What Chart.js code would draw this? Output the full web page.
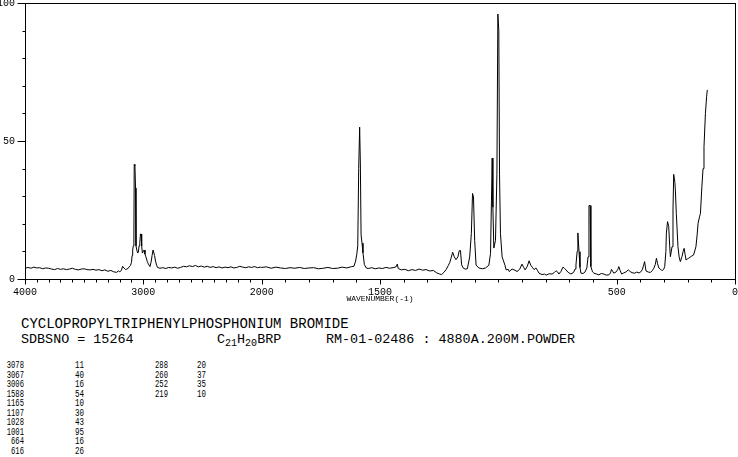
<!DOCTYPE html>
<html>
<head>
<meta charset="utf-8">
<script src="https://cdn.jsdelivr.net/npm/chart.js@4.4.1/dist/chart.umd.min.js"></script>
<style>
  body { margin: 0; background: #fff; }
  #wrap { position: relative; width: 738px; height: 457px; overflow: hidden; }
  #chartBox { position: absolute; left: 0; top: 0; width: 738px; height: 310px; }
  .txt { position: absolute; font-family: "Liberation Mono", monospace; color: #000; white-space: pre; }
  .big { font-size: 14px; line-height: 14px; }
  .mid { font-size: 13.4px; line-height: 14px; }
  .small { font-size: 10px; line-height: 10px; }
  .mid sub { font-size: 10px; vertical-align: -3px; }
</style>
</head>
<body>
<div id="wrap">
  <div id="chartBox"><canvas id="spectrum" width="738" height="310"></canvas></div>
  <div id="info"></div>
</div>
<script>
// Raman spectrum, intensity (wavenumber in cm-1)
const wavenumbers = [
    4000, 3975, 3950, 3925, 3900, 3875, 3850, 3825, 3800, 3775,
    3750, 3725, 3700, 3675, 3650, 3625, 3600, 3575, 3550, 3525,
    3500, 3475, 3450, 3425, 3400, 3375, 3350, 3325, 3300, 3275,
    3250, 3225, 3210, 3200, 3185, 3175, 3165, 3150, 3140, 3130,
    3120, 3110, 3100, 3095, 3090, 3085, 3080, 3077, 3071, 3066,
    3062, 3055, 3048, 3042, 3036, 3030, 3024, 3019, 3014, 3008,
    3000, 2994, 2986, 2978, 2966, 2958, 2944, 2935, 2926, 2918,
    2912, 2905, 2897, 2888, 2880, 2860, 2835, 2810, 2785, 2760,
    2735, 2710, 2685, 2660, 2635, 2610, 2585, 2560, 2535, 2510,
    2485, 2460, 2435, 2410, 2385, 2360, 2335, 2310, 2285, 2260,
    2235, 2210, 2185, 2160, 2135, 2110, 2085, 2060, 2035, 2010,
    2000, 1980, 1960, 1940, 1920, 1900, 1880, 1860, 1840, 1820,
    1800, 1780, 1760, 1740, 1720, 1700, 1680, 1660, 1640, 1620,
    1610, 1603, 1598, 1594, 1590, 1586, 1583, 1580, 1576, 1572,
    1566, 1558, 1550, 1535, 1520, 1505, 1490, 1475, 1460, 1445,
    1432, 1427, 1423, 1410, 1395, 1380, 1365, 1350, 1335, 1320,
    1305, 1290, 1275, 1260, 1248, 1240, 1230, 1220, 1212, 1205,
    1200, 1193, 1186, 1179, 1171, 1165, 1160, 1155, 1148, 1140,
    1131, 1121, 1114, 1109, 1105, 1100, 1094, 1082, 1068, 1054,
    1040, 1033, 1029, 1026, 1023, 1019, 1012, 1006, 1002, 998,
    995, 991, 984, 972, 967, 958, 954, 942, 930, 921,
    910, 900, 893, 887, 878, 870, 863, 857, 849, 841,
    834, 828, 815, 805, 798, 785, 773, 763, 756, 750,
    744, 735, 727, 720, 714, 705, 693, 682, 676, 672,
    667, 664, 659, 655, 651, 642, 634, 626, 621, 617,
    612, 609, 602, 596, 585, 575, 565, 554, 544, 533,
    526, 522, 517, 512, 502, 495, 491, 485, 479, 470,
    460, 451, 443, 435, 425, 415, 405, 398, 392, 386,
    382, 378, 376, 366, 357, 350, 343, 337, 332, 327,
    322, 315, 308, 301, 297, 292, 290, 285, 280, 276,
    273, 266, 262, 259, 254, 252, 248, 241, 236, 231,
    224, 219, 215, 211, 207, 202, 196, 185, 175, 165,
    160, 156, 150, 146, 140, 135, 131, 125, 120, 117
];
const intensities = [
    3.8, 4.2, 3.9, 4.3, 4.0, 4.1, 3.7, 4.0, 3.9, 3.6,
    3.4, 3.8, 3.5, 3.7, 3.4, 3.6, 3.9, 3.5, 3.3, 3.6,
    3.7, 3.4, 3.3, 3.5, 3.2, 3.4, 3.0, 3.3, 2.8, 3.1,
    2.6, 2.4, 3.0, 2.5, 3.2, 4.6, 4.0, 3.4, 3.6, 3.8,
    4.4, 4.8, 6.0, 8.5, 10.5, 12.0, 13.0, 41.5, 41.0, 33.0,
    12.0, 10.5, 9.4, 9.8, 12.0, 13.0, 16.3, 16.3, 12.0, 9.4,
    10.0, 10.5, 9.0, 8.0, 6.3, 5.5, 4.5, 6.0, 8.5, 10.5,
    10.5, 8.5, 6.5, 5.0, 4.2, 3.9, 4.1, 3.8, 4.2, 4.0,
    4.3, 3.9, 4.2, 4.6, 4.4, 4.8, 4.5, 4.9, 4.4, 4.7,
    4.3, 4.6, 4.2, 4.5, 4.1, 4.4, 4.0, 4.3, 4.1, 4.4,
    4.0, 4.2, 4.6, 4.3, 4.1, 4.4, 4.2, 4.5, 4.1, 4.3,
    4.2, 4.4, 3.9, 4.3, 4.0, 3.8, 4.1, 3.9, 4.2, 3.8,
    4.0, 4.1, 3.7, 3.9, 4.2, 3.8, 3.9, 4.3, 4.0, 4.5,
    4.6, 6.5, 9.0, 12.0, 40.0, 55.0, 42.0, 16.0, 13.0, 9.5,
    5.2, 4.0, 3.8, 4.1, 3.7, 4.0, 3.8, 4.2, 3.9, 4.1,
    4.4, 5.4, 3.8, 3.3, 3.5, 3.0, 3.4, 3.1, 3.6, 3.2,
    3.4, 2.9, 3.1, 2.2, 1.8, 1.6, 2.4, 3.5, 4.8, 6.0,
    7.5, 9.7, 8.0, 7.0, 8.0, 10.3, 10.3, 5.1, 3.9, 3.6,
    3.7, 8.0, 16.5, 31.0, 29.8, 14.0, 5.0, 4.0, 3.7, 4.0,
    5.0, 9.3, 28.6, 43.8, 26.0, 11.2, 14.0, 38.0, 96.0, 90.0,
    38.0, 16.5, 8.0, 5.0, 3.3, 3.5, 2.7, 3.6, 3.2, 2.7,
    3.5, 5.4, 4.2, 3.3, 4.5, 6.6, 5.0, 4.3, 3.4, 4.0,
    3.0, 2.1, 1.6, 1.8, 1.4, 1.9, 1.8, 2.4, 3.0, 2.6,
    1.8, 2.8, 4.3, 3.8, 3.3, 2.4, 1.8, 2.4, 3.6, 5.1,
    10.0, 16.7, 9.9, 4.2, 2.1, 2.0, 2.5, 4.0, 8.0, 26.6,
    26.6, 4.5, 2.6, 2.1, 1.8, 1.5, 2.0, 1.8, 1.4, 1.5,
    2.2, 3.5, 2.8, 2.1, 2.6, 3.5, 4.5, 3.0, 1.8, 2.2,
    2.6, 3.3, 2.7, 2.3, 2.1, 2.5, 2.2, 2.6, 3.3, 5.0,
    6.3, 4.0, 2.9, 2.5, 2.4, 3.0, 3.9, 5.2, 7.5, 5.5,
    4.0, 3.6, 3.0, 3.6, 4.5, 10.0, 16.6, 20.8, 19.0, 12.0,
    8.1, 11.7, 25.0, 37.9, 35.0, 32.2, 23.8, 11.7, 8.0, 6.3,
    8.1, 10.0, 11.1, 9.0, 6.9, 7.2, 7.5, 8.2, 8.7, 11.7,
    16.0, 20.2, 22.5, 23.8, 33.4, 40.0, 47.9, 60.0, 66.0, 68.5
];

const xTickValues = [4000, 3000, 2000, 1500, 500, 0];
const xTickLabels = ['4000', '3000', '2000', '1500', '500', '0'];
const yTickValues = [0, 50, 100];
const xTitle = 'WAVENUMBER(-1)';

// peak table printed under the plot
const peakWavenumbers = [3078, 3067, 3006, 1588, 1165, 1107, 1028, 1001, 664, 616, 288, 260, 252, 219];
const peakIntensities = [11, 40, 16, 54, 10, 30, 43, 95, 16, 26, 20, 37, 35, 10];

const compoundName = 'CYCLOPROPYLTRIPHENYLPHOSPHONIUM BROMIDE';
const sdbsNo = 'SDBSNO = 15264';
const formulaHtml = 'C<sub>21</sub>H<sub>20</sub>BRP';
const sampleInfo = 'RM-01-02486 : 4880A.200M.POWDER';

const fontFamily = '"Liberation Mono", monospace';

function toAxis(w) {
    // 4000-2000 is drawn at half the scale of 2000-0
    return w >= 2000 ? (4000 - w) / 2 : 1000 + (2000 - w);
}

const plotFrame = {
    id: 'plotFrame',
    afterDraw: function (chart) {
        let ctx = chart.ctx;
        let a = chart.chartArea;
        let xs = chart.scales.x;
        let ys = chart.scales.y;
        let left = Math.round(a.left) + 0.5;
        let top = Math.round(a.top) + 0.5;
        let bottom = Math.round(a.bottom) + 0.5;

        ctx.save();
        ctx.strokeStyle = '#000';
        ctx.lineWidth = 1;
        ctx.strokeRect(left, top, Math.round(a.width), Math.round(a.height));

        ctx.beginPath();
        // every 100 cm-1 on the x axis, every 10 on the y axis
        for (let w = 4000; w >= 0; w -= 100) {
            let px = Math.round(xs.getPixelForValue(toAxis(w))) + 0.5;
            let len = xTickValues.includes(w) ? 5 : 3;
            ctx.moveTo(px, bottom);
            ctx.lineTo(px, bottom + len);
        }
        for (let v = 0; v <= 100; v += 10) {
            let py = Math.round(ys.getPixelForValue(v)) + 0.5;
            let len = yTickValues.includes(v) ? 8 : 3;
            ctx.moveTo(left - len, py);
            ctx.lineTo(left, py);
        }
        ctx.stroke();
        ctx.restore();
    }
};

let points = wavenumbers.map(function (w, i) {
    return { x: toAxis(w), y: intensities[i] };
});

new Chart(document.getElementById('spectrum'), {
    type: 'line',
    data: {
        datasets: [{
            data: points,
            borderColor: '#000',
            borderWidth: 1,
            pointRadius: 0,
            pointHoverRadius: 0,
            tension: 0,
            fill: false
        }]
    },
    options: {
        responsive: false,
        animation: false,
        events: [],
        layout: { autoPadding: false, padding: { top: 3, right: 2, left: 0, bottom: 0 } },
        plugins: {
            legend: { display: false },
            tooltip: { enabled: false }
        },
        scales: {
            x: {
                type: 'linear',
                min: 0,
                max: 3000,
                // tick marks come from plotFrame, tickLength only spaces the labels
                grid: { display: false, drawTicks: true, tickLength: 7 },
                border: { display: false },
                afterBuildTicks: function (s) {
                    s.ticks = xTickValues.map(function (w) { return { value: toAxis(w) }; });
                },
                afterFit: function (s) { s.height = 31; },
                ticks: {
                    autoSkip: false,
                    maxRotation: 0,
                    padding: 0,
                    color: '#000',
                    font: { family: fontFamily, size: 10 },
                    callback: function (v, i) { return xTickLabels[i]; }
                },
                title: {
                    display: true,
                    text: xTitle,
                    color: '#000',
                    font: { family: fontFamily, size: 8 },
                    padding: { top: 0, bottom: 6 }
                }
            },
            y: {
                min: 0,
                max: 100,
                grid: { display: false, drawTicks: true, tickLength: 10 },
                border: { display: false },
                afterBuildTicks: function (s) {
                    s.ticks = yTickValues.map(function (v) { return { value: v }; });
                },
                afterFit: function (s) { s.width = 25; },
                ticks: {
                    padding: 0,
                    color: '#000',
                    font: { family: fontFamily, size: 10, lineHeight: 0.6 },
                    callback: function (v) { return String(v); }
                }
            }
        }
    },
    plugins: [plotFrame]
});

// text block under the plot
let info = document.getElementById('info');

function addText(cls, left, top, html) {
    let d = document.createElement('div');
    d.className = 'txt ' + cls;
    d.style.left = left + 'px';
    d.style.top = top + 'px';
    d.innerHTML = html;
    info.appendChild(d);
    return d;
}

addText('big', 21, 317, compoundName);
addText('mid', 21, 333, sdbsNo);
addText('mid', 217, 333, formulaHtml);
addText('mid', 326, 333, sampleInfo);

peakWavenumbers.forEach(function (w, i) {
    let block = Math.floor(i / 10);
    let row = i % 10;
    let top = 361 + row * 9.5;
    let wnRight = block === 0 ? 24 : 168;
    let intLeft = block === 0 ? 75 : 197;

    let wn = addText('small', wnRight - 40, top, String(w));
    wn.style.width = '40px';
    wn.style.textAlign = 'right';
    wn.style.transform = 'scaleX(0.72)';
    wn.style.transformOrigin = 'right top';

    let val = addText('small', intLeft, top, String(peakIntensities[i]));
    val.style.transform = 'scaleX(0.75)';
    val.style.transformOrigin = 'left top';
});
</script>
</body>
</html>
